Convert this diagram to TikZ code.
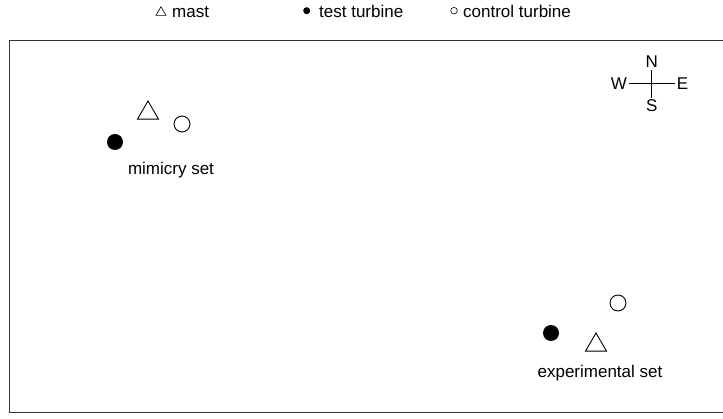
\documentclass[tikz,border=0pt]{standalone}
\usepackage{fontspec}
\setmainfont{Liberation Sans}
\usepackage{tikz}
\usetikzlibrary{positioning,shapes.geometric}
\tikzset{
lbl/.style={
inner sep=0pt,
font=\fontsize{17}{20}\selectfont
},
dir/.style={
inner sep=2pt,
font=\fontsize{17}{20}\selectfont
},
mastmark/.style={
draw,
regular polygon,
regular polygon sides=3,
minimum size=24.2pt,
inner sep=0pt,
line width=0.9pt
},
testmark/.style={
circle,
fill=black,
minimum size=16pt,
inner sep=0pt
},
ctrlmark/.style={
circle,
draw,
minimum size=16pt,
inner sep=0pt,
line width=0.9pt
}
}

\begin{document}
\begin{tikzpicture}[x=1pt,y=1pt]
\useasboundingbox (0,0) rectangle (723,418);
% frame
\draw[line width=1pt,black!80] (723,377.5) -| (9.5,6) -- (723,6);

% legend
\node[mastmark,minimum size=11.6pt,line width=0.6pt](lm) at (161,405.5){};
\node[lbl,anchor=base west](lmt) at (172,400.5){mast};
\node[testmark,minimum size=7pt](lt) at (306.7,407.3){};
\node[lbl,anchor=base west](ltt) at (319,400.5){test turbine};
\node[ctrlmark,minimum size=6.6pt,line width=0.6pt](lc) at (454,407.3){};
\node[lbl,anchor=base west](lct) at (463,400.5){control turbine};

% compass
\node[dir](N) at (651.7,356){N};
\node[dir](S) at (651.7,312){S};
\node[dir](W) at (619,334.5){W};
\node[dir](E) at (682.5,334.5){E};
\foreach \x/\y in {N/S,W/E}
\draw[line width=0.8pt](\x)--(\y);

% mimicry set
\node[mastmark](mm) at (148,304.9){};
\node[ctrlmark](mc) at (182,294){};
\node[testmark](mt) at (115,276){};
\node[lbl,anchor=base](ml) at (171,243){mimicry set};

% experimental set
\node[ctrlmark](ec) at (618,115){};
\node[testmark](et) at (551,85){};
\node[mastmark](em) at (596,72.9){};
\node[lbl,anchor=base](el) at (600,41){experimental set};
\end{tikzpicture}
\end{document}
